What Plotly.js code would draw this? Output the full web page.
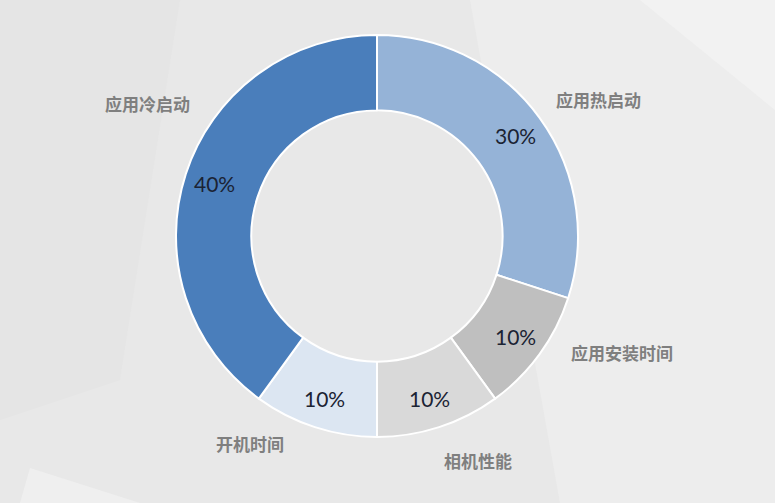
<!DOCTYPE html>
<html>
<head>
<meta charset="utf-8">
<script src="https://cdn.plot.ly/plotly-3.0.1.min.js"></script>
<style>html,body{margin:0;padding:0;background:#E9E9E9;}#chart{width:775px;height:503px;}</style>
</head>
<body>
<div id="chart"></div>
<script>
// Data (clockwise from 12 o'clock)
const categories = ['应用热启动', '应用安装时间', '相机性能', '开机时间', '应用冷启动'];
const shares = [30, 10, 10, 10, 40];
const sliceColors = ['#95B3D7', '#BFBFBF', '#D9D9D9', '#DCE6F2', '#4A7EBB'];
// outside label positions (page pixels, centre of text)
const labelPx = [[598, 100], [622, 352], [478, 460], [250, 443], [147, 104]];

const W = 775, H = 503;
const cx = 377, cy = 236, R = 201, textR = 171;

const trace = {
  type: 'pie',
  labels: categories,
  values: shares,
  sort: false,
  direction: 'clockwise',
  rotation: 0,
  hole: 0.625,
  marker: { colors: sliceColors, line: { color: '#FFFFFF', width: 2 } },
  textinfo: 'none',
  domain: { x: [(cx - R) / W, (cx + R) / W], y: [1 - (cy + R) / H, 1 - (cy - R) / H] },
  showlegend: false,
  hoverinfo: 'label+percent'
};

const total = shares.reduce((a, b) => a + b, 0);
let cum = 0;
const pctAnnotations = shares.map((v) => {
  const mid = (cum + v / 2) / total * 2 * Math.PI;
  cum += v;
  const px = cx + textR * Math.sin(mid);
  const py = cy - textR * Math.cos(mid);
  return {
    text: Math.round(v / total * 100) + '%',
    x: px / W, y: 1 - py / H,
    xref: 'paper', yref: 'paper', xanchor: 'center', yanchor: 'middle',
    showarrow: false,
    font: { family: 'Lato, "Liberation Sans", sans-serif', size: 21, color: '#1B2333' }
  };
});

const annotations = categories.map((c, i) => ({
  text: c,
  x: labelPx[i][0] / W,
  y: 1 - labelPx[i][1] / H,
  xref: 'paper', yref: 'paper',
  xanchor: 'center', yanchor: 'middle',
  showarrow: false,
  font: { family: '"Noto Sans CJK SC", sans-serif', size: 17, color: '#7F7F7F', weight: 'bold' }
})).concat(pctAnnotations);

function p(x, y) { return (x / W).toFixed(4) + ',' + (1 - y / H).toFixed(4); }
const shapes = [
  { type: 'path', xref: 'paper', yref: 'paper', layer: 'below', line: { width: 0 }, fillcolor: '#EDEDED',
    path: 'M' + p(470, 0) + ' L' + p(775, 0) + ' L' + p(775, 503) + ' L' + p(560, 503) + ' Z' },
  { type: 'path', xref: 'paper', yref: 'paper', layer: 'below', line: { width: 0 }, fillcolor: '#F2F2F2',
    path: 'M' + p(640, 0) + ' L' + p(775, 0) + ' L' + p(775, 110) + ' Z' },
  { type: 'path', xref: 'paper', yref: 'paper', layer: 'below', line: { width: 0 }, fillcolor: '#E5E5E5',
    path: 'M' + p(0, 0) + ' L' + p(180, 0) + ' L' + p(120, 380) + ' L' + p(0, 420) + ' Z' },
  { type: 'path', xref: 'paper', yref: 'paper', layer: 'below', line: { width: 0 }, fillcolor: '#EFEFEF',
    path: 'M' + p(30, 468) + ' L' + p(140, 503) + ' L' + p(20, 503) + ' Z' }
];

const layout = {
  width: W, height: H,
  margin: { l: 0, r: 0, t: 0, b: 0 },
  paper_bgcolor: '#E8E8E8',
  plot_bgcolor: '#E8E8E8',
  annotations: annotations,
  shapes: shapes,
  showlegend: false
};

Plotly.newPlot('chart', [trace], layout, { displayModeBar: false, staticPlot: true });
</script>
</body>
</html>
